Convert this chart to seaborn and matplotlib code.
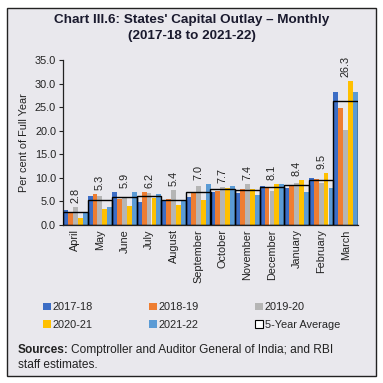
import matplotlib
matplotlib.use("Agg")
import matplotlib.pyplot as plt
import seaborn as sns
import pandas as pd
from matplotlib.patches import Patch, Rectangle

months = ["April", "May", "June", "July", "August", "September", "October",
          "November", "December", "January", "February", "March"]
years = ["2017-18", "2018-19", "2019-20", "2020-21", "2021-22"]
v2017 = [3.1, 6.1, 6.9, 4.8, 5.0, 6.0, 6.9, 6.8, 8.2, 7.95, 10.0, 28.2]
v2018 = [2.6, 6.6, 5.6, 7.0, 5.5, 7.0, 7.3, 7.6, 7.75, 8.4, 9.7, 24.8]
v2019 = [3.8, 6.2, 5.7, 6.7, 7.4, 8.2, 8.1, 8.7, 7.3, 9.0, 9.0, 20.1]
v2020 = [1.5, 3.5, 4.1, 5.8, 4.2, 5.4, 7.8, 7.7, 8.7, 9.5, 11.05, 30.6]
v2021 = [2.7, 3.9, 7.0, 6.5, 5.0, 8.7, 8.2, 6.4, 8.6, 6.9, 7.95, 28.2]
avg5 = [2.8, 5.3, 5.9, 6.2, 5.4, 7.0, 7.7, 7.4, 8.1, 8.4, 9.5, 26.3]

colors = ["#3C6DC5", "#EE7D31", "#B5B5B5", "#FFC000", "#5B9BD5"]
bg = "#E9E8ED"

rows = []
for y, vals in zip(years, [v2017, v2018, v2019, v2020, v2021]):
    for m, v in zip(months, vals):
        rows.append({"Month": m, "Year": y, "Value": v})
df = pd.DataFrame(rows)

sns.set_style("ticks")
plt.rcParams["font.family"] = ["Liberation Sans", "DejaVu Sans"]

fig = plt.figure(figsize=(3.83, 3.83), dpi=100)
fig.patch.set_facecolor("white")
frame = Rectangle((7 / 383, 7 / 383), 369 / 383, 368 / 383,
                  transform=fig.transFigure, facecolor=bg,
                  edgecolor="#222222", linewidth=1.0, zorder=-5)
fig.patches.append(frame)

ax = fig.add_axes([63 / 383, 1 - 225 / 383, 295 / 383, 165 / 383])
ax.set_zorder(2)
ax.set_facecolor(bg)

sns.barplot(data=df, x="Month", y="Value", hue="Year", order=months,
            hue_order=years, palette=colors, width=1.0, saturation=1,
            errorbar=None, ax=ax, legend=False, zorder=2, linewidth=0)
sns.barplot(x=months, y=avg5, fill=False, color="black", width=1.0,
            linewidth=1.0, errorbar=None, ax=ax, zorder=3)

allv = [v2017, v2018, v2019, v2020, v2021]
for i, a in enumerate(avg5):
    top = max(s[i] for s in allv)
    ax.text(i, top + 0.8, f"{a:.1f}", rotation=90, ha="center", va="bottom",
            fontsize=7.8, color="#222222")

ax.set_xlim(-0.5, 11.5)
ax.set_ylim(0, 35)
ax.set_yticks(range(0, 36, 5))
ax.set_yticklabels([f"{t:.1f}" for t in range(0, 36, 5)], fontsize=7.8)
ax.tick_params(axis="y", length=3, width=0.8, pad=2, colors="#222222")
ax.tick_params(axis="x", length=0, pad=3, labelsize=7.8, labelrotation=90,
               colors="#222222")
ax.set_xlabel("")
ax.set_ylabel("Per cent of Full Year", fontsize=7.8, labelpad=4, color="#222222")
for s in ["top", "right"]:
    ax.spines[s].set_visible(False)
for s in ["left", "bottom"]:
    ax.spines[s].set_linewidth(0.9)
    ax.spines[s].set_color("#222222")

fig.text(0.5, 1 - 20 / 383, "Chart III.6: States' Capital Outlay – Monthly",
         ha="center", va="center", fontsize=9.7, fontweight="bold", color="#1a1a2e")
fig.text(0.5, 1 - 36 / 383, "(2017-18 to 2021-22)",
         ha="center", va="center", fontsize=9.7, fontweight="bold", color="#1a1a2e")

handles = [Patch(facecolor=c, edgecolor="none") for c in colors]
handles.append(Patch(facecolor="white", edgecolor="black", linewidth=0.8))
labels = years + ["5-Year Average"]
order = [0, 3, 1, 4, 2, 5]
leg = fig.legend([handles[i] for i in order], [labels[i] for i in order],
                 loc="center", bbox_to_anchor=(0.5, 1 - 316 / 383), ncol=3,
                 frameon=False, fontsize=7.9, handlelength=0.7, handleheight=0.7,
                 handletextpad=0.2, columnspacing=5.1, labelspacing=0.65)

t = fig.text(18 / 383, 1 - 350 / 383, "Sources:", fontsize=8.6,
             fontweight="bold", va="center", ha="left", color="#222222")
fig.canvas.draw()
bb = t.get_window_extent()
fig.text(bb.x1 / fig.bbox.width + 0.006, 1 - 350 / 383,
         "Comptroller and Auditor General of India; and RBI",
         fontsize=8.6, va="center", ha="left", color="#222222")
fig.text(18 / 383, 1 - 365 / 383, "staff estimates.", fontsize=8.6,
         va="center", ha="left", color="#222222")

fig.savefig("out.png", dpi=100, facecolor="white")
